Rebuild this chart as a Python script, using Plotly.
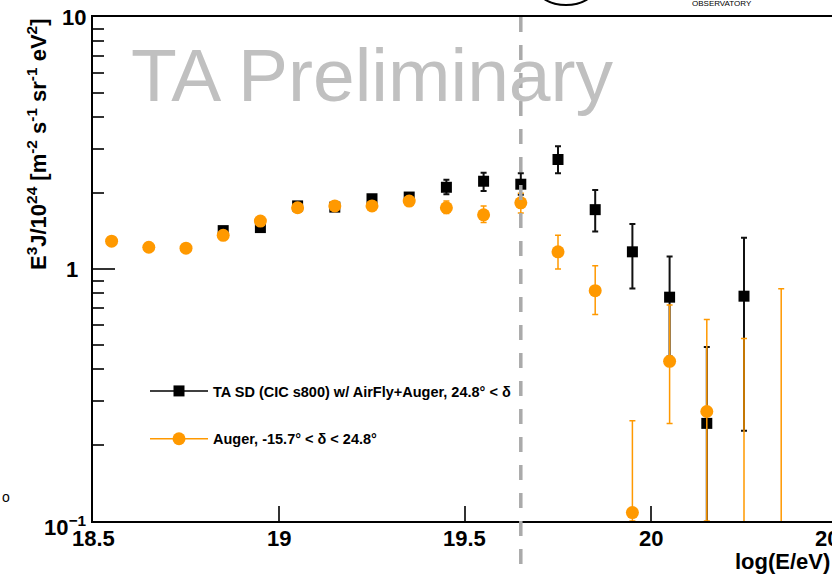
import math
import plotly.graph_objects as go

# ---------------- data ----------------
ta_x = [18.85, 18.95, 19.05, 19.15, 19.25, 19.35, 19.45, 19.55, 19.65, 19.75, 19.85, 19.95, 20.05, 20.15, 20.25]
ta_y = [1.42, 1.46, 1.78, 1.76, 1.90, 1.93, 2.11, 2.23, 2.17, 2.72, 1.72, 1.17, 0.773, 0.244, 0.78]
ta_hi = [1.44, 1.49, 1.82, 1.81, 1.96, 2.00, 2.26, 2.41, 2.40, 3.07, 2.06, 1.51, 1.12, 0.49, 1.33]
ta_lo = [1.40, 1.43, 1.74, 1.71, 1.84, 1.86, 1.98, 2.04, 1.97, 2.40, 1.41, 0.836, 0.45, 0.05, 0.228]

au_x = [18.55, 18.65, 18.75, 18.85, 18.95, 19.05, 19.15, 19.25, 19.35, 19.45,
        19.55, 19.65, 19.75, 19.85, 19.95, 20.05, 20.15, 20.25, 20.35]
au_y = [1.29, 1.22, 1.21, 1.36, 1.55, 1.75, 1.78, 1.78, 1.86, 1.75,
        1.64, 1.83, 1.17, 0.82, 0.108, 0.43, 0.272, 0.05, 0.05]
au_hi = [1.32, 1.25, 1.24, 1.39, 1.58, 1.79, 1.82, 1.82, 1.91, 1.86,
         1.78, 2.00, 1.36, 1.03, 0.25, 0.72, 0.63, 0.53, 0.835]
au_lo = [1.26, 1.19, 1.18, 1.33, 1.52, 1.71, 1.74, 1.74, 1.81, 1.66,
         1.53, 1.67, 1.00, 0.66, 0.10, 0.244, 0.10, 0.05, 0.05]

ta_name = "TA SD (CIC s800) w/ AirFly+Auger, 24.8° < δ"
au_name = "Auger, -15.7° < δ < 24.8°"

x_tick_vals = [18.5, 19, 19.5, 20, 20.5]
x_tick_text = ["18.5", "19", "19.5", "20", "20.5"]
y_tick_vals = [0.1, 1, 10]
y_tick_text = ["10<sup>−1</sup>", "1", "10"]
y_minor_vals = [0.2, 0.3, 0.4, 0.5, 0.6, 0.7, 0.8, 0.9, 2, 3, 4, 5, 6, 7, 8, 9]
cut_energy = 19.65

# ---------------- geometry ----------------
W, H = 832, 577
ML, MR, MT, MB = 93, 0, 17, 56
PW = W - ML - MR
PH = H - MT - MB
X0 = 18.5
PX_PER_UNIT = 372.0
X1 = X0 + PW / PX_PER_UNIT

FONT = "Liberation Sans"
ORANGE = "#ff9900"

fig = go.Figure()

fig.add_trace(go.Scatter(
    x=ta_x, y=ta_y, mode="markers", showlegend=False,
    marker=dict(symbol="square", size=11, color="black"),
    error_y=dict(type="data", symmetric=False,
                 array=[h - y for h, y in zip(ta_hi, ta_y)],
                 arrayminus=[y - l for l, y in zip(ta_lo, ta_y)],
                 color="#111111", thickness=2, width=3),
))
fig.add_trace(go.Scatter(
    x=au_x, y=au_y, mode="markers", showlegend=False,
    marker=dict(symbol="circle", size=13, color=ORANGE),
    error_y=dict(type="data", symmetric=False,
                 array=[h - y for h, y in zip(au_hi, au_y)],
                 arrayminus=[y - l for l, y in zip(au_lo, au_y)],
                 color=ORANGE, thickness=1.5, width=3),
))
# legend entries
fig.add_trace(go.Scatter(x=[None], y=[None], mode="lines+markers", name=ta_name,
                         legendgroup="ta",
                         line=dict(color="black", width=1.5),
                         marker=dict(symbol="square", size=11, color="black")))
fig.add_trace(go.Scatter(x=[None], y=[None], mode="lines+markers", name=au_name,
                         legendgroup="au",
                         line=dict(color=ORANGE, width=1.5),
                         marker=dict(symbol="circle", size=13, color=ORANGE)))

annotations = []
# y tick labels
for v, t in zip(y_tick_vals, y_tick_text):
    xs = -13 if t == "1" else -5
    ys = -5 if v == 0.1 else 0
    annotations.append(dict(x=0, xref="paper", y=math.log10(v), yref="y",
                            text=t, showarrow=False, xanchor="right", yanchor="middle",
                            xshift=xs, yshift=ys,
                            font=dict(family=FONT, size=22, color="black", weight="bold")))
# x tick labels
for v, t in zip(x_tick_vals, x_tick_text):
    annotations.append(dict(x=(v - X0) / (X1 - X0), xref="paper", y=0, yref="paper",
                            text=t, showarrow=False, xanchor="center", yanchor="top",
                            yshift=-3,
                            font=dict(family=FONT, size=22, color="black", weight="bold")))
# axis titles
annotations.append(dict(x=1.0, xref="paper", y=(0 - 40) / PH, yref="paper",
                        text="<b>log(E/eV)</b>", showarrow=False, xanchor="right", yanchor="middle",
                        font=dict(family=FONT, size=22, color="black")))
annotations.append(dict(x=(37 - ML) / PW, xref="paper", y=(PH - (145 - MT)) / PH, yref="paper",
                        text="E<sup>3</sup>J/10<sup>24</sup> [m<sup>-2</sup> s<sup>-1</sup> sr<sup>-1</sup> eV<sup>2</sup>]",
                        textangle=-90, showarrow=False, xanchor="center", yanchor="middle",
                        font=dict(family=FONT, size=22, color="black", weight="bold")))
# watermark
annotations.append(dict(x=(129 - ML) / PW, xref="paper", y=(PH - (75 - MT)) / PH, yref="paper",
                        text="TA Preliminary", showarrow=False, xanchor="left", yanchor="middle",
                        font=dict(family=FONT, size=75, color="#c0c0c0")))
# logo fragment text
annotations.append(dict(x=(722 - ML) / PW, xref="paper", y=(PH - (3 - MT)) / PH, yref="paper",
                        text="OBSERVATORY", showarrow=False, xanchor="center", yanchor="middle",
                        font=dict(family=FONT, size=8, color="black")))
annotations.append(dict(x=(6 - ML) / PW, xref="paper", y=(PH - (497 - MT)) / PH, yref="paper",
                        text="o", showarrow=False, xanchor="center", yanchor="middle",
                        font=dict(family=FONT, size=14, color="black")))

shapes = [
    dict(type="line", xref="x", yref="paper", x0=cut_energy, x1=cut_energy,
         y0=1, y1=-0.2, layer="above",
         line=dict(color="#aaaaaa", width=3.5, dash="15px,13px")),
    dict(type="circle", xref="paper", yref="paper",
         x0=(537 - ML) / PW, x1=(595 - ML) / PW,
         y0=(PH - (5 - MT)) / PH, y1=(PH - (-30 - MT)) / PH,
         line=dict(color="black", width=2)),
]

fig.update_layout(
    width=W, height=H,
    margin=dict(l=ML, r=MR, t=MT, b=MB, pad=0),
    paper_bgcolor="white", plot_bgcolor="white",
    font=dict(family=FONT, color="black"),
    showlegend=True,
    legend=dict(x=(145 - ML) / PW, xanchor="left", y=(PH - (375 - MT)) / PH, yanchor="top",
                bgcolor="rgba(0,0,0,0)", borderwidth=0, tracegroupgap=26,
                itemwidth=58,
                font=dict(family=FONT, size=14.5, color="black", weight="bold")),
    xaxis=dict(range=[X0, X1], showgrid=False, zeroline=False,
               showline=True, linecolor="black", linewidth=2, mirror=True,
               ticks="inside", tickvals=[19, 19.5, 20], ticklen=15, tickwidth=1.5,
               tickcolor="#333333", showticklabels=False),
    yaxis=dict(type="log", range=[-1, 1], showgrid=False, zeroline=False,
               showline=True, linecolor="black", linewidth=2, mirror=False,
               ticks="inside", tickvals=y_tick_vals, ticklen=22, tickwidth=1.5,
               tickcolor="#333333", showticklabels=False,
               minor=dict(tickmode="array", tickvals=y_minor_vals, ticks="inside",
                          ticklen=11, tickwidth=1.5, tickcolor="#333333", showgrid=False)),
    annotations=annotations,
    shapes=shapes,
)

fig.write_html("out.html",
               config={"displayModeBar": False},
               post_script="document.body.style.margin='0';document.body.style.overflow='hidden';")
